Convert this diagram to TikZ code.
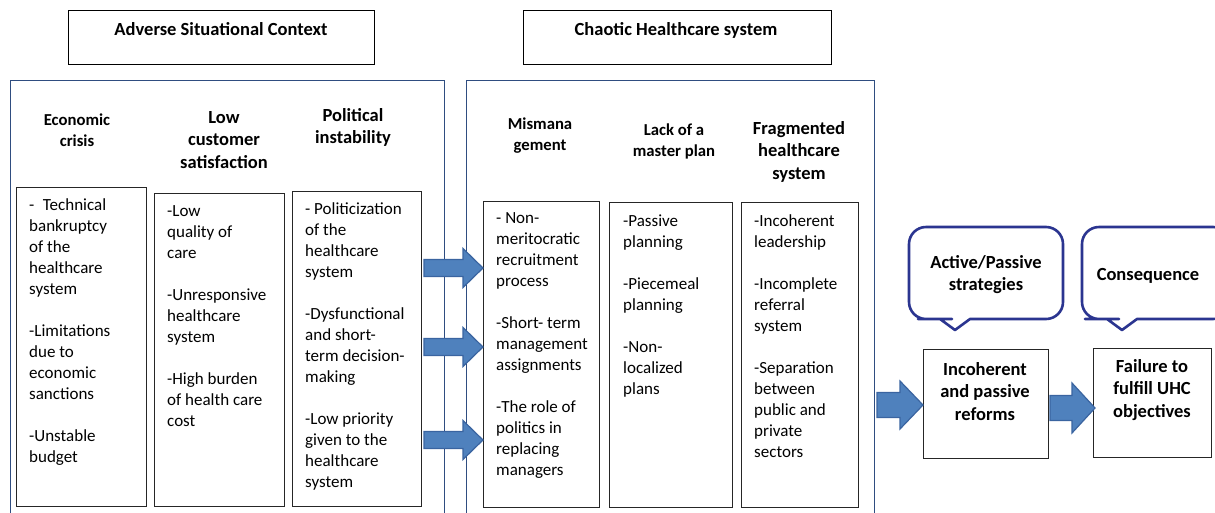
\documentclass[tikz,border=0pt]{standalone}
\usepackage{fontspec}
\setmainfont{Carlito}
\definecolor{panelblue}{HTML}{2F4D80}
\definecolor{arrfill}{HTML}{4F81BD}
\definecolor{arrdraw}{HTML}{3A64A0}
\definecolor{callblue}{HTML}{2B3590}
\newcommand{\fl}{\rule{0pt}{14pt}}
% block arrow: #1 start x, #2 head start x, #3 tip x, #4 centre y, #5 half shaft, #6 half head
\newcommand{\blockarr}[6]{%
  \filldraw[blockarrow] (#1,#4-#5) -- (#2,#4-#5) -- (#2,#4-#6) -- (#3,#4) -- (#2,#4+#6)
    -- (#2,#4+#5) -- (#1,#4+#5) -- cycle;}
\begin{document}
\begin{tikzpicture}[x=1pt,y=-1pt,
  panel/.style={draw=panelblue,line width=1.3pt,anchor=north west,inner sep=0pt},
  titlebox/.style={draw=black,line width=1.1pt,anchor=north west,inner sep=0pt},
  itembox/.style={draw=black!85,line width=1.3pt,anchor=north west,inner sep=0pt},
  itemtxt/.style={font=\fontsize{17}{21}\selectfont,align=left,anchor=north west,inner sep=0pt},
  hdrs/.style={font=\bfseries\fontsize{16.7}{21.5}\selectfont,align=center,anchor=north,inner sep=0pt},
  hdrl/.style={font=\bfseries\fontsize{18.5}{22.5}\selectfont,align=center,anchor=north,inner sep=0pt},
  ttl/.style={font=\bfseries\fontsize{18.5}{22}\selectfont,anchor=base,inner sep=0pt},
  blockarrow/.style={draw=arrdraw,fill=arrfill,line width=1.2pt,line join=miter},
  callout/.style={draw=callblue,line width=2.6pt,fill=white,line join=round}
]
\clip (0,0) rectangle (1215,512);
\fill[white] (0,0) rectangle (1215,512);

% title boxes
\node[titlebox,minimum width=306pt,minimum height=54pt] (tb1) at (68,10) {};
\node[ttl] (tt1) at (221,35) {Adverse Situational Context};
\node[titlebox,minimum width=308pt,minimum height=54pt] (tb2) at (523,10) {};
\node[ttl] (tt2) at (676,35) {Chaotic Healthcare system};

% panels
\node[panel,minimum width=434pt,minimum height=450pt] (p1) at (10,80) {};
\node[panel,minimum width=408pt,minimum height=450pt] (p2) at (466,80) {};

% headers
\node[hdrs] (h1) at (77,111) {\fl Economic\\crisis};
\node[hdrl] (h2) at (224,109) {\fl Low\\customer\\satisfaction};
\node[hdrl] (h3) at (353,107) {\fl Political\\instability};
\node[hdrs] (h4) at (540,115) {\fl Mismana\\gement};
\node[hdrs] (h5) at (674,121) {\fl Lack of a\\master plan};
\node[hdrl] (h6) at (799,120) {\fl Fragmented\\healthcare\\system};

% item boxes
\node[itembox,minimum width=130pt,minimum height=319pt] (b1) at (16,187) {};
\node[itembox,minimum width=130pt,minimum height=313pt] (b2) at (154,193) {};
\node[itembox,minimum width=129pt,minimum height=315pt] (b3) at (292,191) {};
\node[itembox,minimum width=116pt,minimum height=306pt] (b4) at (483,201) {};
\node[itembox,minimum width=123pt,minimum height=305pt] (b5) at (609,202) {};
\node[itembox,minimum width=117pt,minimum height=305pt] (b6) at (741,202) {};

\node[itemtxt] (x1) at (29,196) {\fl-\enspace Technical\\bankruptcy\\of the\\healthcare\\system\\[21pt]
-Limitations\\due to\\economic\\sanctions\\[21pt]-Unstable\\budget};
\node[itemtxt] (x2) at (167,202) {\fl-Low\\quality of\\care\\[21pt]-Unresponsive\\healthcare\\system\\[21pt]
-High burden\\of health care\\cost};
\node[itemtxt] (x3) at (305,200) {\fl- Politicization\\of the\\healthcare\\system\\[21pt]
-Dysfunctional\\and short-\\term decision-\\making\\[21pt]-Low priority\\given to the\\healthcare\\system};
\node[itemtxt] (x4) at (496,209) {\fl- Non-\\meritocratic\\recruitment\\process\\[21pt]
-Short- term\\management\\assignments\\[21pt]-The role of\\politics in\\replacing\\managers};
\node[itemtxt] (x5) at (623,212) {\fl-Passive\\planning\\[21pt]-Piecemeal\\planning\\[21pt]-Non-\\localized\\plans};
\node[itemtxt] (x6) at (754,212) {\fl-Incoherent\\leadership\\[21pt]-Incomplete\\referral\\system\\[21pt]
-Separation\\between\\public and\\private\\sectors};

% arrows between panels
\blockarr{424}{463}{483}{268}{8.5}{19.5}
\blockarr{424}{463}{483}{347}{8.5}{19.5}
\blockarr{424}{463}{483}{440}{8.5}{19.5}

% right part
\node[itembox,minimum width=125pt,minimum height=109pt] (r) at (923,349) {};
\node[itembox,minimum width=118pt,minimum height=109pt] (f) at (1093,348) {};
\node[hdrl] (rt) at (985,361) {\fl Incoherent\\and passive\\reforms};
\node[hdrl] (ft) at (1152,358) {\fl Failure to\\fulfill UHC\\objectives};

\blockarr{877}{900}{923}{405}{12.5}{24}
\blockarr{1050}{1072}{1095}{408}{12.5}{25}

% callouts
\draw[callout] (955,330) -- (970,319) -- (975,319) [rounded corners=17pt] -- (1063,319) -- (1063,227)
  -- (909,227) -- (909,319) -- (935,319) [sharp corners] -- (940,319) -- cycle;
\draw[callout] (1122,330) -- (1137,319) -- (1142,319) [rounded corners=17pt] -- (1230,319) -- (1230,227)
  -- (1082,227) -- (1082,319) -- (1102,319) [sharp corners] -- (1107,319) -- cycle;
\node[hdrl] (ct1) at (986,254) {\fl Active/Passive\\strategies};
\node[ttl] (ct2) at (1148,280) {Consequence};
\end{tikzpicture}
\end{document}
